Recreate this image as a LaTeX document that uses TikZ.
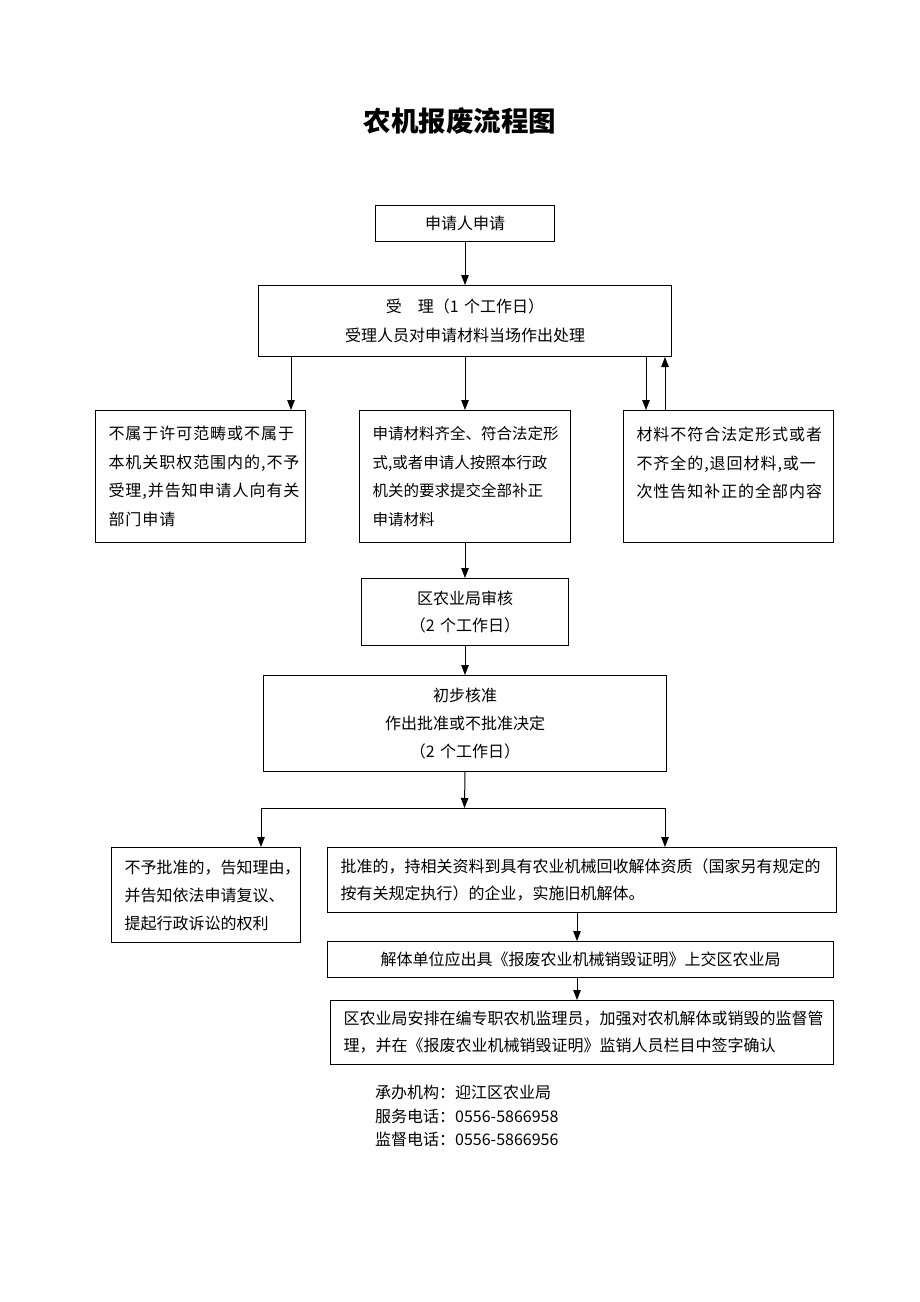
\documentclass[tikz,border=0pt]{standalone}
\usepackage{fontspec}
\setmainfont{Noto Sans CJK SC}
\usetikzlibrary{arrows.meta,calc}
\begin{document}
\begin{tikzpicture}[x=1pt,y=1pt,
  box/.style={draw=black, line width=1pt, inner ysep=0pt, minimum height=#1, font=\fontsize{16}{28.5}\selectfont},
  lbox/.style={box=#1, align=left, inner xsep=13pt},
  cbox/.style={box=#1, align=center, inner xsep=0pt},
  wide/.style={font=\fontsize{16}{28.5}\selectfont\addfontfeature{LetterSpace=6}},
  arr/.style={line width=1pt, -{Triangle[width=7.5pt,length=10pt]}},
  ln/.style={line width=1pt}]
\useasboundingbox (0,0) rectangle (920,-1302);
\fill[white] (0,0) rectangle (920,-1302);

\node[font=\fontsize{27.5}{30}\selectfont\bfseries] (title) at (460,-121) {农机报废流程图};

\node[cbox=36pt, text width=179pt, anchor=north west] (b1) at (375,-205) {申请人申请};
\node[cbox=71pt, text width=413pt, anchor=north west] (b2) at (258,-285) {受\quad 理（1 个工作日）\\受理人员对申请材料当场作出处理};

\node[lbox=132pt, text width=184pt, anchor=north west, wide] (b3) at (95,-410) {不属于许可范畴或不属于\\本机关职权范围内的,不予\\受理,并告知申请人向有关\\部门申请};
\node[lbox=132pt, text width=185pt, anchor=north west, font=\fontsize{15.5}{28.5}\selectfont] (b4) at (359,-410) {申请材料齐全、符合法定形\\式,或者申请人按照本行政\\机关的要求提交全部补正\\申请材料};
\node[lbox=132pt, text width=184pt, anchor=north west, wide] (b5) at (623,-410) {材料不符合法定形式或者\\\mbox{不齐全的,退回材料,或一}\\次性告知补正的全部内容\\\mbox{}};

\node[cbox=67pt, text width=207pt, anchor=north west, font=\fontsize{16}{27}\selectfont] (b6) at (361,-578) {区农业局审核\\（2 个工作日）};
\node[cbox=96pt, text width=403pt, anchor=north west, font=\fontsize{16}{28}\selectfont] (b7) at (263,-675) {初步核准\\作出批准或不批准决定\\（2 个工作日）};

\node[lbox=95pt, text width=163pt, anchor=north west, font=\fontsize{16}{28}\selectfont] (b8) at (111,-847) {不予批准的，告知理由，\\并告知依法申请复议、\\提起行政诉讼的权利};
\node[lbox=65pt, text width=483pt, anchor=north west, font=\fontsize{16}{27}\selectfont] (b9) at (327,-847) {批准的，持相关资料到具有农业机械回收解体资质（国家另有规定的\\按有关规定执行）的企业，实施旧机解体。};
\node[cbox=36pt, text width=506pt, anchor=north west] (b10) at (327,-941) {解体单位应出具《报废农业机械销毁证明》上交区农业局};
\node[lbox=64pt, text width=477pt, anchor=north west, font=\fontsize{16}{27}\selectfont] (b11) at (330,-1000) {区农业局安排在编专职农机监理员，加强对农机解体或销毁的监督管\\理，并在《报废农业机械销毁证明》监销人员栏目中签字确认};

\node[anchor=north west, align=left, inner sep=0pt, font=\fontsize{16}{23.5}\selectfont] (foot) at (375,-1085) {承办机构：迎江区农业局\\服务电话：0556-5866958\\监督电话：0556-5866956};

% connectors
\draw[arr] (b1.south) -- (b1.south |- b2.north);
\draw[arr] ([xshift=-15pt]b3.north east |- b2.south) -- ([xshift=-15pt]b3.north east);
\draw[arr] (b4.north |- b2.south) -- (b4.north);
\draw[arr] ([xshift=23pt]b5.north west |- b2.south) -- ([xshift=23pt]b5.north west);
\draw[arr] ([xshift=42pt]b5.north west) -- ([xshift=42pt]b5.north west |- b2.south);
\draw[arr] (b4.south) -- (b6.north);
\draw[arr] (b6.south) -- (b7.north);
\coordinate (split) at (464.5,-808);
\coordinate (sl) at (261,-808);
\coordinate (sr) at (665,-808);
\draw[arr] (b7.south) -- (split);
\draw[ln] (sl) -- (sr);
\draw[arr] (sl) -- (sl |- b8.north);
\draw[arr] (sr) -- (sr |- b9.north);
\draw[arr] ([xshift=250pt]b9.south west) -- ([xshift=250pt]b9.south west |- b10.north);
\draw[arr] ([xshift=250pt]b9.south west |- b10.south) -- ([xshift=250pt]b9.south west |- b11.north);
\end{tikzpicture}
\end{document}
